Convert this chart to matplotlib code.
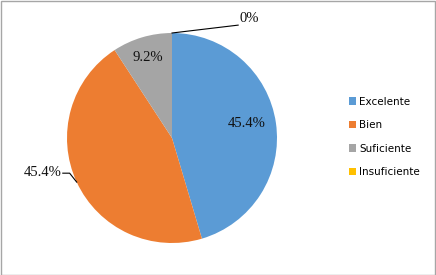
import numpy as np
import matplotlib
matplotlib.use("Agg")
import matplotlib.pyplot as plt
from matplotlib.patches import Rectangle, Patch

categories = ["Excelente", "Bien", "Suficiente", "Insuficiente"]
values = [45.4, 45.4, 9.2, 0.0]
labels = ["45.4%", "45.4%", "9.2%", "0%"]
colors = ["#5B9BD5", "#ED7D31", "#A5A5A5", "#FFC000"]

W, H = 436, 275
fig = plt.figure(figsize=(W / 100, H / 100), dpi=100)
fig.patch.set_facecolor("white")

cx, cy, r = 172, 138, 105
ax = fig.add_axes([(cx - r) / W, (H - cy - r) / H, 2 * r / W, 2 * r / H])
wedges, _ = ax.pie(values, colors=colors, startangle=90, counterclock=False,
                   radius=1, wedgeprops=dict(linewidth=0))
ax.set_xlim(-1, 1)
ax.set_ylim(-1, 1)
ax.set_aspect("auto")
ax.axis("off")

lab_font = dict(family="Liberation Serif", fontsize=10.5, color="#111111")

def mid(w):
    return np.deg2rad((w.theta1 + w.theta2) / 2)

# Excelente inside
a = mid(wedges[0])
ax.text(0.72 * np.cos(a), 0.72 * np.sin(a) + 0.03, labels[0], ha="center", va="center", **lab_font)
# Suficiente inside
a = mid(wedges[2])
ax.text(0.8 * np.cos(a), 0.8 * np.sin(a), labels[2], ha="center", va="center", **lab_font)
# Bien outside with leader
a = mid(wedges[1])
ex, ey = np.cos(a), np.sin(a)
ax.plot([ex, -0.975, -1.04], [ey, -0.335, -0.335], color="black", lw=0.8, clip_on=False)
ax.text(-1.05, -0.325, labels[1], ha="right", va="center", **lab_font)
# Insuficiente (0%) outside with leader
a = np.deg2rad(wedges[3].theta1)
ex, ey = np.cos(a), np.sin(a)
ax.plot([ex, 0.63], [ey, 1.075], color="black", lw=0.8, clip_on=False)
ax.text(0.645, 1.135, labels[3], ha="left", va="center", **lab_font)

handles = [Patch(facecolor=c, edgecolor="none", label=l) for c, l in zip(colors, categories)]
fig.legend(handles=handles, loc="center left", bbox_to_anchor=(349 / W, 1 - 137 / H),
           frameon=False, prop=dict(family="DejaVu Sans", size=7.5),
           handlelength=0.7, handleheight=0.7, handletextpad=0.3, labelspacing=1.3,
           borderaxespad=0, borderpad=0)

fig.add_artist(Rectangle((0.5 / W, 0.5 / H), 1 - 1.5 / W, 1 - 1.5 / H, transform=fig.transFigure,
                         fill=False, edgecolor="#A6A6A6", lw=1))

fig.savefig("out.png", dpi=100)
